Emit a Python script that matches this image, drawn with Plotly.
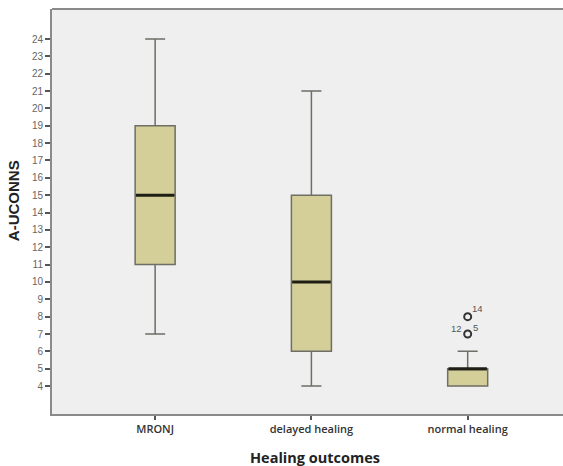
import plotly.graph_objects as go

categories = ["MRONJ", "delayed healing", "normal healing"]
q1 = [11, 6, 4]
median = [15, 10, 5]
q3 = [19, 15, 5]
lower_whisker = [7, 4, 4]
upper_whisker = [24, 21, 6]

outlier_group = [2, 2]
outlier_value = [8, 7]
outlier_labels = [["14"], ["12", "5"]]

y_ticks = list(range(4, 25))

BOX_W = 0.256
xpos = list(range(len(categories)))

fig = go.Figure()
fig.add_trace(go.Box(
    x=xpos, q1=q1, median=median, q3=q3,
    lowerfence=lower_whisker, upperfence=upper_whisker,
    width=BOX_W, whiskerwidth=0.5,
    fillcolor="#d4cf98", line=dict(color="#6e6e66", width=1.5),
    boxpoints=False, showlegend=False, hoverinfo="skip",
))

# thick median lines
for i, m in zip(xpos, median):
    fig.add_trace(go.Scatter(
        x=[i - BOX_W / 2 + 0.005, i + BOX_W / 2 - 0.005], y=[m, m], mode="lines",
        line=dict(color="#1e1e14", width=3), showlegend=False, hoverinfo="skip",
    ))

# outliers
fig.add_trace(go.Scatter(
    x=outlier_group, y=outlier_value, mode="markers",
    marker=dict(symbol="circle-open", size=7, color="#333", line=dict(width=2, color="#333")),
    showlegend=False, hoverinfo="skip",
))

lab_font = dict(size=9.5, color="#555", family="Liberation Sans")
for g, v, labs in zip(outlier_group, outlier_value, outlier_labels):
    if len(labs) == 1:
        fig.add_annotation(x=g, y=v, text=labs[0], showarrow=False, xshift=10, yshift=8, font=lab_font)
    else:
        fig.add_annotation(x=g, y=v, text=labs[0], showarrow=False, xshift=-11, yshift=6, font=lab_font)
        fig.add_annotation(x=g, y=v, text=labs[1], showarrow=False, xshift=8, yshift=7, font=lab_font)

# axis titles
fig.add_annotation(xref="paper", yref="paper", x=0.514, y=-0.1086, yanchor="middle",
                   text="<b>Healing outcomes</b>", showarrow=False,
                   font=dict(family="Open Sans", size=14.5, color="#222"))
fig.add_annotation(xref="paper", yref="paper", x=-0.074, y=0.526, xanchor="center", yanchor="middle",
                   textangle=-90, text="<b>A-UCONNS</b>", showarrow=False,
                   font=dict(family="Liberation Sans", size=15, color="#222"))

fig.update_layout(
    width=563, height=466,
    margin=dict(l=52, r=0, t=9, b=52),
    paper_bgcolor="white", plot_bgcolor="#efefef",
    showlegend=False,
)
fig.update_xaxes(
    range=[-0.66, 2.61], tickvals=xpos, ticktext=categories,
    showgrid=False, zeroline=False, showline=True, linecolor="#8a8a8a", linewidth=2,
    mirror=False, ticks="outside", ticklen=4, tickcolor="#555", tickwidth=1.5,
    tickfont=dict(family="Open Sans", size=11, color="#333", weight=600),
)
fig.update_yaxes(
    range=[2.39, 25.73], tickvals=y_ticks,
    showgrid=False, zeroline=False, showline=True, linecolor="#8a8a8a", linewidth=2,
    ticks="outside", ticklen=5, tickcolor="#555", tickwidth=1.5,
    tickfont=dict(family="Liberation Sans Narrow, Liberation Sans", size=10, color="#666"),
)
# top border
fig.add_shape(type="line", xref="paper", yref="paper", x0=0, x1=1, y0=1, y1=1,
              line=dict(color="#8a8a8a", width=2))

fig.write_html(
    "out.html",
    config={"displayModeBar": False},
    post_script=("document.body.style.margin='0';document.body.style.padding='0';"
                 "document.documentElement.style.overflow='hidden';"
                 "document.body.style.overflow='hidden';"),
)
